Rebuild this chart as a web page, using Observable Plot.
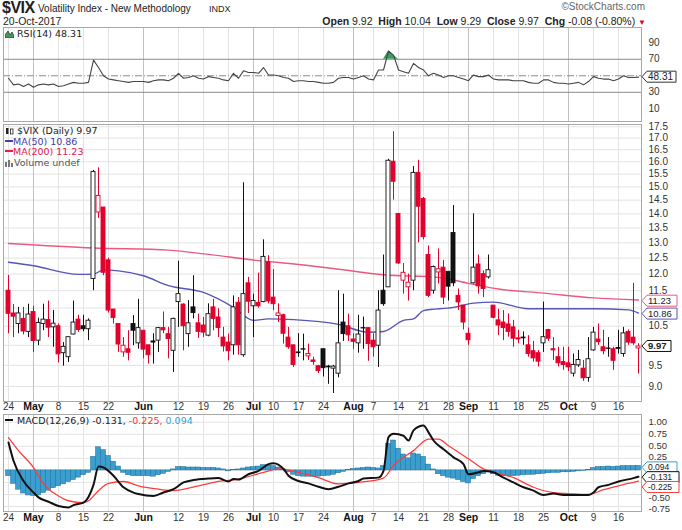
<!DOCTYPE html>
<html><head><meta charset="utf-8">
<script src="https://cdn.jsdelivr.net/npm/d3@7"></script>
<script src="https://cdn.jsdelivr.net/npm/@observablehq/plot@0.6"></script>
<style>
html,body{margin:0;padding:0;background:#fff;}
#wrap{position:relative;width:682px;height:530px;overflow:hidden;font-family:"Liberation Sans",Arial,sans-serif;color:#222;}
.abs{position:absolute;white-space:nowrap;line-height:1.12;}
.leg{font-family:"DejaVu Sans",Verdana,sans-serif;font-size:9.5px;line-height:10.5px;z-index:5;}
.panel{position:absolute;left:0;}
.panel svg{display:block;}
</style></head><body><div id="wrap">
<div class="abs" style="left:2px;top:0px;font-size:16px;line-height:15px;font-weight:bold;letter-spacing:-0.5px;">$VIX</div>
<div class="abs" style="left:38px;top:3px;font-size:10px;">Volatility Index - New Methodology</div>
<div class="abs" style="left:209px;top:4px;font-size:9px;">INDX</div>
<div class="abs" style="right:37px;top:1px;font-size:10px;color:#666;">©StockCharts.com</div>
<div class="abs" style="left:3px;top:16px;font-size:10.5px;">20-Oct-2017</div>
<div class="abs" style="right:36px;top:16px;font-size:10.5px;"><b>Open</b> 9.92 &nbsp;<b>High</b> 10.04 &nbsp;<b>Low</b> 9.29 &nbsp;<b>Close</b> 9.97 &nbsp;<b>Chg</b> -0.08 (-0.80%) <span style="color:#e2002d;font-size:8px;">▼</span></div>
<div id="rsi" class="panel" style="top:27px;"></div>
<div id="price" class="panel" style="top:124px;"></div>
<div id="macd" class="panel" style="top:414px;"></div>
<div class="abs leg" style="left:5px;top:29px;"><svg width="9" height="8" style="vertical-align:-1px"><path d="M0,8 L0,5 L3,1 L5,5 L7,2 L9,6 L9,8Z" fill="#3f9a5e" stroke="#333" stroke-width="0.8"/></svg> RSI(14) 48.31</div>
<div class="abs leg" style="left:5px;top:126px;">
<div><svg width="9" height="8" style="vertical-align:-1px"><rect x="1" y="1" width="2.5" height="6" fill="#222"/><rect x="5.5" y="2" width="2.5" height="5" fill="#fff" stroke="#222" stroke-width="0.8"/></svg> $VIX (Daily) 9.97</div>
<div style="color:#4040a8"><svg width="8" height="8" style="vertical-align:0px"><line x1="0" y1="4" x2="8" y2="4" stroke="#4040a8" stroke-width="2"/></svg>MA(50) 10.86</div>
<div style="color:#e2204f"><svg width="8" height="8" style="vertical-align:0px"><line x1="0" y1="4" x2="8" y2="4" stroke="#e2204f" stroke-width="2"/></svg>MA(200) 11.23</div>
<div style="color:#555"><svg width="9" height="8" style="vertical-align:-1px"><rect x="0" y="3" width="2" height="5" fill="#777"/><rect x="3" y="1" width="2" height="7" fill="#777"/><rect x="6" y="4" width="2" height="4" fill="#777"/></svg>Volume undef</div>
</div>
<div class="abs leg" style="left:5px;top:416px;"><svg width="9" height="8" style="vertical-align:0px"><line x1="0" y1="4" x2="8" y2="4" stroke="#111" stroke-width="2"/></svg> MACD(12,26,9) -0.131,<span style="color:#ff2a2a"> -0.225,</span><span style="color:#2aa3d6"> 0.094</span></div>
</div>
<script>
// ---------- DATA ----------
const dates = [
"2017-04-24","2017-04-25","2017-04-26","2017-04-27","2017-04-28",
"2017-05-01","2017-05-02","2017-05-03","2017-05-04","2017-05-05","2017-05-08","2017-05-09","2017-05-10","2017-05-11","2017-05-12",
"2017-05-15","2017-05-16","2017-05-17","2017-05-18","2017-05-19","2017-05-22","2017-05-23","2017-05-24","2017-05-25","2017-05-26",
"2017-05-30","2017-05-31","2017-06-01","2017-06-02","2017-06-05","2017-06-06","2017-06-07","2017-06-08","2017-06-09",
"2017-06-12","2017-06-13","2017-06-14","2017-06-15","2017-06-16","2017-06-19","2017-06-20","2017-06-21","2017-06-22","2017-06-23",
"2017-06-26","2017-06-27","2017-06-28","2017-06-29","2017-06-30","2017-07-03","2017-07-05","2017-07-06","2017-07-07",
"2017-07-10","2017-07-11","2017-07-12","2017-07-13","2017-07-14","2017-07-17","2017-07-18","2017-07-19","2017-07-20","2017-07-21",
"2017-07-24","2017-07-25","2017-07-26","2017-07-27","2017-07-28","2017-07-31","2017-08-01","2017-08-02","2017-08-03","2017-08-04",
"2017-08-07","2017-08-08","2017-08-09","2017-08-10","2017-08-11","2017-08-14","2017-08-15","2017-08-16","2017-08-17","2017-08-18",
"2017-08-21","2017-08-22","2017-08-23","2017-08-24","2017-08-25","2017-08-28","2017-08-29","2017-08-30","2017-08-31","2017-09-01",
"2017-09-05","2017-09-06","2017-09-07","2017-09-08","2017-09-11","2017-09-12","2017-09-13","2017-09-14","2017-09-15",
"2017-09-18","2017-09-19","2017-09-20","2017-09-21","2017-09-22","2017-09-25","2017-09-26","2017-09-27","2017-09-28","2017-09-29",
"2017-10-02","2017-10-03","2017-10-04","2017-10-05","2017-10-06","2017-10-09","2017-10-10","2017-10-11","2017-10-12","2017-10-13",
"2017-10-16","2017-10-17","2017-10-18","2017-10-19","2017-10-20"];
const open = [11.50,10.85,10.56,10.70,10.35,10.89,10.12,10.56,10.67,10.47,
10.50,9.80,9.70,10.28,10.68,10.50,10.42,11.85,14.05,14.23,
12.43,10.96,10.56,9.82,9.90,10.56,10.05,10.38,10.00,10.10,
10.12,10.45,10.29,9.86,11.17,11.10,10.29,11.02,10.58,10.52,
10.25,11.02,10.74,10.20,10.07,10.00,11.15,9.75,11.72,11.05,
11.15,11.17,12.37,11.30,10.78,10.80,10.20,10.00,9.80,9.90,
9.72,9.62,9.48,9.90,9.47,9.42,9.30,10.60,10.50,10.15,
10.05,10.45,10.45,10.12,9.99,11.50,11.60,16.00,14.00,11.80,
11.60,11.80,15.55,14.55,12.60,11.50,12.05,12.20,12.07,13.33,
11.35,11.07,10.30,11.72,12.30,12.00,11.90,11.07,10.66,10.60,
10.55,10.47,10.18,10.20,10.00,9.85,9.80,10.05,10.40,9.90,
9.70,9.58,9.55,9.30,9.50,9.42,9.20,9.87,10.15,9.95,
9.92,9.90,9.93,9.78,10.35,10.20,9.92];
const high = [11.96,11.10,11.02,11.02,11.11,11.05,10.72,11.11,11.20,10.93,
10.56,10.07,10.22,11.20,10.80,10.80,10.70,15.65,15.75,14.23,
12.50,10.96,10.56,10.20,10.38,10.79,11.25,10.38,10.00,10.30,
10.47,10.89,10.47,10.72,12.40,11.12,11.21,11.95,10.83,10.74,
11.12,11.25,10.98,10.47,10.29,11.35,11.30,15.16,11.90,11.40,
12.03,13.10,12.58,12.14,11.12,10.83,10.47,10.00,10.30,10.29,
10.03,9.70,9.50,9.90,9.50,9.50,11.50,11.40,10.83,10.30,
10.80,10.75,10.45,10.30,11.50,12.60,16.10,17.28,14.00,12.33,
12.00,15.80,16.06,14.60,12.90,12.25,12.80,12.43,12.07,14.30,
11.55,11.07,10.45,14.00,12.60,12.10,12.60,11.07,10.97,10.93,
10.84,10.66,10.39,10.35,10.25,10.10,9.87,11.17,10.42,10.20,
9.95,9.95,9.95,9.78,9.87,9.62,10.20,10.47,10.56,10.39,
10.20,9.95,10.39,10.47,10.40,11.72,10.04];
const low = [10.30,10.20,10.30,10.27,10.20,9.82,9.99,10.38,10.20,9.95,
9.56,9.48,9.57,10.27,10.34,10.35,10.12,11.50,13.84,11.95,
10.86,10.56,9.82,9.70,9.61,9.99,9.90,9.66,9.53,9.53,
9.82,10.30,9.66,9.33,10.47,9.86,9.95,10.70,10.18,10.20,
10.22,10.38,10.20,9.83,9.61,9.75,9.75,9.70,10.85,10.20,
11.00,11.15,11.12,10.93,10.60,10.03,9.90,9.45,9.70,9.61,
9.62,9.50,9.30,9.22,9.05,8.84,9.20,10.10,10.10,9.90,
9.80,9.90,9.60,9.70,9.45,11.05,11.60,14.50,12.30,11.40,
11.20,11.50,13.00,13.10,11.30,11.40,11.70,11.10,11.20,11.62,
10.93,10.40,10.00,11.70,11.40,11.30,11.85,10.70,10.25,10.12,
10.21,9.95,10.04,10.00,9.70,9.58,9.46,9.82,10.10,9.62,
9.46,9.38,9.35,9.22,9.45,9.12,9.10,9.85,10.00,9.76,
9.70,9.38,9.78,9.70,10.00,10.00,9.29];
const close = [10.84,10.76,10.85,10.36,10.82,10.11,10.59,10.68,10.46,10.57,
9.77,9.96,10.21,10.60,10.40,10.42,10.65,15.59,14.66,12.04,
10.93,10.72,10.02,9.99,9.81,10.38,10.45,9.89,9.75,10.07,
10.45,10.39,10.16,10.70,11.40,10.50,10.58,10.86,10.35,10.33,
10.83,10.70,10.45,9.97,9.85,11.02,10.00,11.40,11.18,11.20,
11.05,12.54,11.19,11.11,10.85,10.30,9.95,9.51,9.82,9.89,
9.78,9.58,9.36,9.43,9.45,9.47,10.05,10.29,10.26,10.09,
10.28,10.44,10.03,9.95,10.93,11.11,16.04,15.20,12.33,12.04,
11.74,15.55,14.26,13.19,11.35,12.22,12.15,11.30,11.62,11.72,
11.16,10.60,10.13,12.20,11.63,11.55,12.12,10.73,10.52,10.45,
10.35,10.17,10.15,10.18,9.78,9.67,9.59,10.21,10.17,9.87,
9.55,9.51,9.45,9.51,9.63,9.19,9.65,10.33,10.08,9.85,
9.91,9.61,9.91,10.31,10.07,10.05,9.97];
const prevClose = 14.63;

const ma50Idx = [0,5,14,17,19,22,27,32,39,45,49,52,57,66,72,75,79,81,83,89,93,97,104,111,117,124,126];
const ma50Val = [12.37,12.26,11.99,12.00,12.13,12.10,11.95,11.65,11.45,11.02,10.66,10.70,10.68,10.55,10.34,10.36,10.66,10.70,10.93,11.02,11.14,11.17,10.98,10.98,10.98,10.95,10.86];
const ma200Idx = [0,17,32,40,49,58,66,75,86,92,98,107,117,126];
const ma200Val = [12.98,12.83,12.76,12.62,12.44,12.30,12.15,11.98,11.90,11.72,11.55,11.43,11.29,11.23];

const rsi = [47,39,40,37,40,36,39,40,39,40,
37,38,40,42,41,41,42,69,60,50,
46,45,44,43,42,43,43,43,42,44,
45,45,44,47,53,47,48,50,47,46,
49,48,47,45,44,53,47,56,54,54,
53,60,51,51,50,48,47,43,44,44,
43,43,42,41,41,42,47,48,48,46,
48,50,46,45,57,57,80,75,57,55,
53,65,60,57,50,53,51,48,50,50,
48,46,44,51,49,49,51,46,45,45,
45,44,44,44,42,41,41,45,45,42,
41,41,40,41,42,39,43,49,47,46,
46,44,46,50,48,48,48.31];

const macdIdx = [0,1,3,5,6,8,10,12,13,15,16,17,18,19,21,23,25,26,29,31,33,35,37,40,42,44,45,46,48,50,52,53,55,56,58,60,62,64,66,68,70,71,74,75,76,77,79,80,81,83,84,85,87,89,91,92,94,95,97,99,101,103,105,107,109,111,113,116,117,118,120,122,125,126];
const macdVal = [0.58,0.20,-0.22,-0.46,-0.56,-0.65,-0.74,-0.77,-0.72,-0.67,-0.55,-0.30,0.08,0.06,-0.11,-0.35,-0.46,-0.49,-0.53,-0.46,-0.39,-0.25,-0.20,-0.17,-0.16,-0.23,-0.18,-0.19,-0.08,-0.01,0.13,0.15,0.03,-0.11,-0.22,-0.27,-0.34,-0.39,-0.34,-0.27,-0.22,-0.17,-0.15,-0.01,0.69,0.76,0.72,0.62,0.83,0.93,0.79,0.62,0.44,0.27,0.13,-0.08,-0.04,-0.01,-0.04,-0.15,-0.25,-0.35,-0.42,-0.51,-0.48,-0.51,-0.51,-0.51,-0.46,-0.35,-0.30,-0.23,-0.16,-0.131];
const sigIdx = [0,2,5,7,10,12,15,16,18,20,23,26,30,33,38,42,46,51,54,58,62,66,70,75,77,81,84,86,88,92,95,97,101,105,109,112,116,119,122,126];
const sigVal = [0.68,0.41,0.06,-0.28,-0.53,-0.63,-0.67,-0.63,-0.42,-0.27,-0.23,-0.32,-0.39,-0.42,-0.32,-0.23,-0.18,-0.04,0.03,-0.04,-0.15,-0.28,-0.25,-0.16,0.10,0.41,0.65,0.65,0.51,0.24,0.03,-0.04,-0.15,-0.35,-0.46,-0.48,-0.50,-0.40,-0.32,-0.225];
const hist = [-0.12,-0.28,-0.40,-0.48,-0.52,-0.53,-0.52,-0.47,-0.42,-0.37,
-0.33,-0.29,-0.24,-0.20,-0.15,-0.10,-0.05,0.28,0.48,0.42,
0.30,0.18,0.08,-0.05,-0.10,-0.12,-0.12,-0.12,-0.12,-0.13,
-0.10,-0.07,-0.03,0.02,0.07,0.07,0.06,0.06,0.06,0.05,
0.05,0.05,0.04,0.02,-0.02,0.01,0.02,0.04,0.06,0.07,
0.08,0.11,0.10,0.09,0.06,0.02,-0.04,-0.09,-0.12,-0.13,
-0.13,-0.13,-0.13,-0.12,-0.11,-0.09,-0.06,-0.03,0.01,0.03,
0.04,0.05,0.06,0.05,0.04,0.09,0.55,0.62,0.45,0.33,
0.25,0.35,0.33,0.28,0.12,0.02,-0.08,-0.12,-0.15,-0.17,
-0.20,-0.24,-0.27,-0.18,-0.12,-0.08,-0.04,-0.08,-0.11,-0.12,
-0.12,-0.12,-0.11,-0.10,-0.09,-0.09,-0.08,-0.07,-0.06,-0.05,
-0.05,-0.04,-0.04,-0.03,-0.02,-0.01,0.01,0.05,0.07,0.07,
0.08,0.07,0.08,0.09,0.09,0.09,0.094];

const tickDates = ["2017-04-24","2017-05-01","2017-05-08","2017-05-15","2017-05-22","2017-06-01","2017-06-12","2017-06-19","2017-06-26","2017-07-03","2017-07-10","2017-07-17","2017-07-24","2017-08-01","2017-08-07","2017-08-14","2017-08-21","2017-08-28","2017-09-01","2017-09-11","2017-09-18","2017-09-25","2017-10-02","2017-10-09","2017-10-16"];
const tickLabels = ["24","May","8","15","22","Jun","12","19","26","Jul","10","17","24","Aug","7","14","21","28","Sep","11","18","25","Oct","9","16"];
const priceGridTicks = [9.0,9.5,10.0,10.5,11.0,11.5,12.0,12.5,13.0,13.5,14.0,14.5,15.0,15.5,16.0,16.5,17.0,17.5];
const priceLabelTicks = [9.0,9.5,10.5,11.5,12.0,12.5,13.0,13.5,14.0,14.5,15.0,15.5,16.0,16.5,17.0,17.5];
const rsiLabelTicks = [10,30,70,90];
const macdGridTicks = [-0.75,-0.5,-0.25,0,0.25,0.5,0.75,1.0];
const macdUpperLabels = [1.0,0.75,0.5];

// ---------- BUILD ----------
const RED = "#e2002d", BLK = "#111";
const candles = dates.map((d, i) => {
  const pc = i ? close[i-1] : prevClose;
  const col = close[i] >= pc ? BLK : RED;
  return {i, o: open[i], h: high[i], l: low[i], c: close[i], col, fillc: close[i] > open[i] ? "#fff" : col};
});
const ma50 = ma50Idx.map((i, k) => ({i, v: ma50Val[k]}));
const ma200 = ma200Idx.map((i, k) => ({i, v: ma200Val[k]}));
const rsiData = rsi.map((v, i) => ({i, v}));
const macdData = macdIdx.map((i, k) => ({i, v: macdVal[k]}));
const sigData = sigIdx.map((i, k) => ({i, v: sigVal[k]}));
const histData = hist.map((v, i) => ({i, v}));
const ticks = tickDates.map((d, k) => ({i: dates.indexOf(d), t: tickLabels[k], month: /[A-Za-z]/.test(tickLabels[k])}));

const W = 682, ML = 3, MR = 41;
const X = {domain: [-1, 126.6], axis: null};
const STYLE = {background: "transparent", overflow: "visible", fontFamily: "'Liberation Sans', Arial, sans-serif", fontSize: "10px", color: "#333"};
const gridMarks = () => [
  Plot.ruleX(ticks.filter(d => !d.month), {x: "i", stroke: "#e3e3e3"}),
  Plot.ruleX(ticks.filter(d => d.month), {x: "i", stroke: "#c2c2c2"})
];
const dateMarks = (dy) => [
  Plot.text(ticks.filter(d => !d.month), {x: "i", text: "t", frameAnchor: "bottom", dy, fontSize: 10, fill: "#333"}),
  Plot.text(ticks.filter(d => d.month), {x: "i", text: "t", frameAnchor: "bottom", dy, fontSize: 10.5, fontWeight: "bold", fill: "#111"})
];
const rightLabels = (vals, fmt, dy = 0, fontSize = 10) =>
  Plot.text(vals, {y: d => d, text: fmt, frameAnchor: "right", dx: 7, dy, textAnchor: "start", fontSize, fill: "#333"});

function addBoxes(svgEl, yScale, items, fs) {
  const svg = d3.select(svgEl);
  for (const it of items) {
    const y = (it.at != null ? it.at : yScale.apply(it.v));
    const x0 = 642, w = it.w, hh = 5.5;
    const g = svg.append("g");
    g.append("path")
      .attr("d", `M${x0},${y} L${x0+5},${y-hh} L${x0+w},${y-hh} L${x0+w},${y+hh} L${x0+5},${y+hh} Z`)
      .attr("fill", "#fff").attr("stroke", it.color).attr("stroke-width", 1);
    g.append("text").attr("x", x0 + 6).attr("y", y).attr("dy", "0.36em")
      .attr("text-anchor", "start")
      .attr("fill", "#222").attr("font-size", fs)
      .attr("font-family", "'Liberation Sans', Arial, sans-serif")
      .attr("font-weight", it.bold ? "bold" : "normal").text(it.label);
  }
}

// RSI panel
const rsiPlot = Plot.plot({
  width: W, height: 94, marginLeft: ML, marginRight: MR, marginTop: 0, marginBottom: 0,
  x: X, y: {domain: [-5.4, 108.5], axis: null}, style: STYLE,
  marks: [
    ...gridMarks(),
    Plot.ruleY([70, 30], {stroke: "#8a8a8a"}),
    Plot.ruleY([50], {stroke: "#8a8a8a", strokeDasharray: "7,2,1,2"}),
    Plot.areaY(rsiData, {x: "i", y1: 70, y2: d => Math.max(70, d.v), fill: "#3f9a5e"}),
    Plot.lineY(rsiData, {x: "i", y: "v", stroke: "#444", strokeWidth: 1.1}),
    rightLabels(rsiLabelTicks, d => String(d)),
    Plot.frame({stroke: "#a8a8a8"})
  ]
});
document.getElementById("rsi").appendChild(rsiPlot);
addBoxes(rsiPlot, rsiPlot.scale("y"), [{v: rsi[rsi.length-1], label: "48.31", color: "#333", w: 34}], 10);

// Price panel
const pricePlot = Plot.plot({
  width: W, height: 291, marginLeft: ML, marginRight: MR, marginTop: 0, marginBottom: 14,
  x: X, y: {type: "log", domain: [8.66, 17.6], axis: null},
  color: {type: "identity"}, style: STYLE,
  marks: [
    Plot.ruleY(priceGridTicks, {stroke: "#e3e3e3"}),
    ...gridMarks(),
    Plot.lineY(ma200, {x: "i", y: "v", stroke: "#ea5a80", strokeWidth: 1.4, curve: "monotone-x"}),
    Plot.lineY(ma50, {x: "i", y: "v", stroke: "#5656b8", strokeWidth: 1.4, curve: "monotone-x"}),
    Plot.ruleX(candles, {x: "i", y1: "l", y2: "h", stroke: "col", strokeWidth: 1}),
    Plot.rect(candles, {x1: d => d.i - 0.4, x2: d => d.i + 0.4, y1: "o", y2: "c", fill: "fillc", stroke: "col", strokeWidth: 0.9}),
    rightLabels(priceLabelTicks, d => d.toFixed(1)),
    ...dateMarks(8),
    Plot.frame({stroke: "#a8a8a8"})
  ]
});
document.getElementById("price").appendChild(pricePlot);
{
  const ys = pricePlot.scale("y");
  addBoxes(pricePlot, ys, [
    {at: ys.apply(ma200Val[ma200Val.length-1]) + 1.2, label: "11.23", color: "#ea5a80", w: 35},
    {at: ys.apply(ma50Val[ma50Val.length-1]) + 1, label: "10.86", color: "#5656b8", w: 35},
    {v: close[close.length-1], label: "9.97", color: "#111", w: 29, bold: true}
  ], 9.5);
}

// MACD panel
const macdPlot = Plot.plot({
  width: W, height: 113, marginLeft: ML, marginRight: MR, marginTop: 0, marginBottom: 16,
  x: X, y: {domain: [-0.853, 1.16], axis: null}, style: STYLE,
  marks: [
    Plot.ruleY(macdGridTicks, {stroke: "#e3e3e3"}),
    ...gridMarks(),
    Plot.rect(histData, {x1: d => d.i - 0.5, x2: d => d.i + 0.5, y1: 0, y2: "v", fill: "#3a9fd0", stroke: "#1d6a92", strokeWidth: 0.5}),
    Plot.lineY(sigData, {x: "i", y: "v", stroke: "#ff3b3b", strokeWidth: 1.3, curve: "monotone-x"}),
    Plot.lineY(macdData, {x: "i", y: "v", stroke: "#111", strokeWidth: 2, curve: "monotone-x"}),
    rightLabels(macdUpperLabels, d => d.toFixed(2), 0, 9.5),
    rightLabels([0.25], d => d.toFixed(2), -1, 9.5),
    rightLabels([-0.5], d => d.toFixed(2), 3, 9.5),
    rightLabels([-0.75], d => d.toFixed(2), 2, 9.5),
    ...dateMarks(9),
    Plot.frame({stroke: "#a8a8a8"})
  ]
});
document.getElementById("macd").appendChild(macdPlot);
{
  // stack the three MACD value boxes below the 0.094 one so they stay readable
  const ys = macdPlot.scale("y");
  const yTop = ys.apply(hist[hist.length-1]) + 2;
  addBoxes(macdPlot, ys, [
    {at: yTop, label: "0.094", color: "#3a9fd0", w: 35},
    {at: yTop + 9.8, label: "-0.131", color: "#111", w: 37},
    {at: yTop + 19.6, label: "-0.225", color: "#ff3b3b", w: 37}
  ], 8.5);
}
</script>
</body></html>
